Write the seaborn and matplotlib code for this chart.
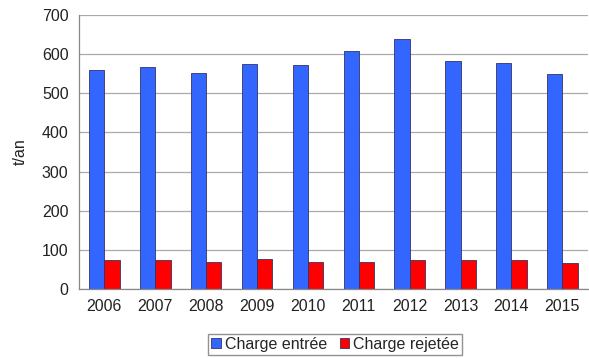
import pandas as pd
import seaborn as sns
import matplotlib.pyplot as plt

# valeurs (t/an)
annees = ['2006', '2007', '2008', '2009', '2010', '2011', '2012', '2013', '2014', '2015']
charge_entree = [560, 568, 553, 574, 573, 607, 640, 583, 578, 549]
charge_rejetee = [74, 74, 70, 77, 70, 68, 73, 73, 74, 66]

df = pd.DataFrame({
    'Annee': annees * 2,
    'Valeur': charge_entree + charge_rejetee,
    'Serie': ['Charge entrée'] * len(annees) + ['Charge rejetée'] * len(annees),
})

sns.set_style('white')
plt.rcParams['font.family'] = ['Liberation Sans', 'DejaVu Sans']

fig = plt.figure(figsize=(5.89, 3.58), dpi=100)
ax = fig.add_axes([0.134, 0.193, 0.864, 0.765])

sns.barplot(data=df, x='Annee', y='Valeur', hue='Serie',
            palette=['#3366FF', '#FF0000'], width=0.6,
            edgecolor='#333366', linewidth=0.6, saturation=1, ax=ax)

ax.set_ylim(0, 700)
ax.set_xlim(-0.5, len(annees) - 0.5)
ax.set_yticks(range(0, 701, 100))
ax.yaxis.grid(True, color='#aaaaaa', linewidth=0.9)
ax.set_axisbelow(True)

for s in ['top', 'right']:
    ax.spines[s].set_visible(False)
for s in ['left', 'bottom']:
    ax.spines[s].set_color('#888888')
    ax.spines[s].set_linewidth(0.9)

ax.tick_params(axis='x', which='major', length=0, labelsize=11.5, colors='#222222', pad=7)
ax.tick_params(axis='y', which='major', length=4, color='#888888', labelsize=11.5, labelcolor='#222222')
ax.set_xticks([i - 0.5 for i in range(len(annees) + 1)], minor=True)
ax.tick_params(axis='x', which='minor', length=4, color='#888888', direction='out')

ax.set_xlabel('')
ax.set_ylabel('t/an', fontsize=11.5, color='#222222', labelpad=10)

ax.legend(loc='upper center', bbox_to_anchor=(0.569, 0.068),
          bbox_transform=fig.transFigure, ncol=2, frameon=True, fancybox=False,
          edgecolor='#777777', fontsize=11.5, handlelength=0.6, handleheight=0.6,
          handletextpad=0.25, columnspacing=0.8, borderpad=0.2, borderaxespad=0)

plt.savefig('out.png', dpi=100)
plt.close()
